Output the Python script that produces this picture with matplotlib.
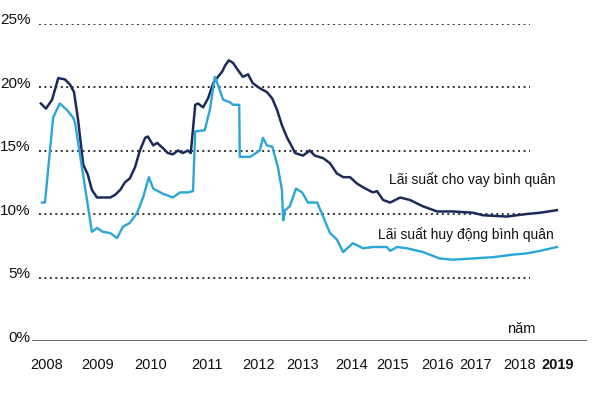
import numpy as np
import matplotlib
matplotlib.use("Agg")
import matplotlib.pyplot as plt
from matplotlib.transforms import ScaledTranslation

# ---- data (decimal years, percent) ----
lend_t = [2007.88, 2007.98, 2008.10, 2008.22, 2008.35, 2008.45, 2008.53, 2008.61, 2008.71, 2008.80,
          2008.88, 2008.98, 2009.09, 2009.23, 2009.32, 2009.42, 2009.51, 2009.60, 2009.70, 2009.79,
          2009.89, 2009.94, 2010.04, 2010.11, 2010.21, 2010.30, 2010.39, 2010.48, 2010.57, 2010.66,
          2010.71, 2010.79, 2010.84, 2010.93, 2011.02, 2011.12, 2011.19, 2011.29, 2011.35, 2011.42,
          2011.50, 2011.60, 2011.69, 2011.79, 2011.88, 2012.02, 2012.18, 2012.30, 2012.41, 2012.52,
          2012.64, 2012.75, 2012.82, 2013.00, 2013.14, 2013.24, 2013.41, 2013.55, 2013.69, 2013.82,
          2013.96, 2014.12, 2014.27, 2014.51, 2014.61, 2014.76, 2014.93, 2015.16, 2015.38, 2015.67,
          2015.98, 2016.39, 2016.92, 2017.16, 2017.70, 2018.18, 2018.53, 2018.97]
lend_v = [18.7, 18.3, 19.0, 20.7, 20.6, 20.2, 19.6, 17.4, 13.9, 13.1,
          11.9, 11.3, 11.3, 11.3, 11.5, 11.9, 12.5, 12.8, 13.7, 15.0,
          16.0, 16.1, 15.4, 15.6, 15.2, 14.8, 14.7, 15.0, 14.8, 15.0,
          14.8, 18.6, 18.7, 18.4, 19.1, 20.3, 20.7, 21.2, 21.7, 22.1,
          21.9, 21.3, 20.8, 21.0, 20.3, 19.9, 19.6, 19.1, 18.2, 17.0,
          16.0, 15.3, 14.8, 14.6, 15.0, 14.6, 14.4, 14.0, 13.2, 12.9,
          12.9, 12.4, 12.1, 11.7, 11.8, 11.1, 10.9, 11.3, 11.1, 10.6,
          10.2, 10.2, 10.1, 9.9, 9.8, 10.0, 10.1, 10.3]

dep_t = [2007.90, 2007.96, 2008.12, 2008.25, 2008.39, 2008.51, 2008.55, 2008.88, 2008.98, 2009.09,
         2009.23, 2009.36, 2009.47, 2009.60, 2009.74, 2009.85, 2009.96, 2010.04, 2010.21, 2010.39,
         2010.52, 2010.66, 2010.75, 2010.79, 2010.96, 2011.06, 2011.15, 2011.19, 2011.31, 2011.44,
         2011.50, 2011.62, 2011.63, 2011.83, 2012.02, 2012.09, 2012.18, 2012.30, 2012.43, 2012.52,
         2012.55, 2012.59, 2012.70, 2012.84, 2012.98, 2013.10, 2013.29, 2013.41, 2013.55, 2013.69,
         2013.82, 2014.02, 2014.27, 2014.51, 2014.85, 2014.93, 2015.09, 2015.31, 2015.67, 2016.04,
         2016.39, 2016.92, 2017.39, 2017.84, 2018.18, 2018.53, 2018.97]
dep_v = [10.9, 10.9, 17.6, 18.7, 18.2, 17.6, 17.2, 8.6, 8.9, 8.6,
         8.5, 8.1, 9.0, 9.3, 10.1, 11.3, 12.9, 12.0, 11.6, 11.3,
         11.7, 11.7, 11.8, 16.5, 16.6, 18.3, 20.8, 20.4, 19.0, 18.8,
         18.6, 18.6, 14.5, 14.5, 15.0, 16.0, 15.4, 15.3, 13.7, 11.9,
         9.5, 10.3, 10.6, 12.0, 11.7, 10.9, 10.9, 9.8, 8.5, 8.0,
         7.0, 7.7, 7.3, 7.4, 7.4, 7.1, 7.4, 7.3, 7.0, 6.5,
         6.4, 6.5, 6.6, 6.8, 6.9, 7.1, 7.4]

years = [2008, 2009, 2010, 2011, 2012, 2013, 2014, 2015, 2016, 2017, 2018, 2019]
year_labels = [str(y) for y in years]
y_levels = [0, 5, 10, 15, 20, 25]
y_labels = [f"{v}%" for v in y_levels]
label_lend = "Lãi suất cho vay bình quân"
label_dep = "Lãi suất huy động bình quân"
unit_label = "năm"

# ---- layout: uneven spacing of the year axis ----
anchor_years = [2007] + years + [2020]
anchor_pos = [-4, 47, 98, 151, 207, 259, 303, 352, 393, 438, 476, 520, 558, 596]

def fwd(x):
    return np.interp(x, anchor_years, anchor_pos)

def inv(p):
    return np.interp(p, anchor_pos, anchor_years)

NAVY = "#1d2b5a"
CYAN = "#2ba6d8"
FONT = ["Liberation Sans", "DejaVu Sans"]
plt.rcParams["font.family"] = FONT

fig = plt.figure(figsize=(6, 4), dpi=100)
ax = fig.add_axes([32 / 600, 59 / 400, 555 / 600, 317.5 / 400])
ax.set_xscale("function", functions=(fwd, inv))
ax.set_xlim(inv(32), inv(587))
ax.set_ylim(0, 25)

for s in ax.spines.values():
    s.set_visible(False)

# dotted gridlines
ax.hlines(y_levels[1:], inv(39), inv(530), colors="#333333",
          linestyles=(0, (1, 1.8)), linewidth=1.4, zorder=1)
# baseline
ax.axhline(0, color="#5f5f5f", linewidth=2.0, zorder=2)

ax.plot(lend_t, lend_v, color=NAVY, linewidth=1.8, zorder=3)
ax.plot(dep_t, dep_v, color=CYAN, linewidth=1.7, zorder=3)

# ticks
ax.set_xticks(years)
ax.set_xticklabels(year_labels)
ax.tick_params(axis="x", length=0, pad=12, labelsize=10.5, labelcolor="#111111")
last = ax.get_xticklabels()[-1]
last.set_fontweight("bold")
last.set_fontsize(10.5)

ax.set_yticks(y_levels)
ax.set_yticklabels(y_labels)
ax.tick_params(axis="y", length=0, pad=1, labelsize=11, labelcolor="#111111")
shift = ScaledTranslation(0, 5 / 100, fig.dpi_scale_trans)
for lab in ax.get_yticklabels():
    lab.set_transform(lab.get_transform() + shift)

ax.text(2014.90, 12.7, label_lend, fontsize=10, ha="left", va="center", color="#111111")
ax.text(2014.63, 8.35, label_dep, fontsize=10, ha="left", va="center", color="#111111")
ax.text(2018.03, 0.95, unit_label, fontsize=10.5, ha="center", va="center", color="#111111")

fig.savefig("out.png", dpi=100)
